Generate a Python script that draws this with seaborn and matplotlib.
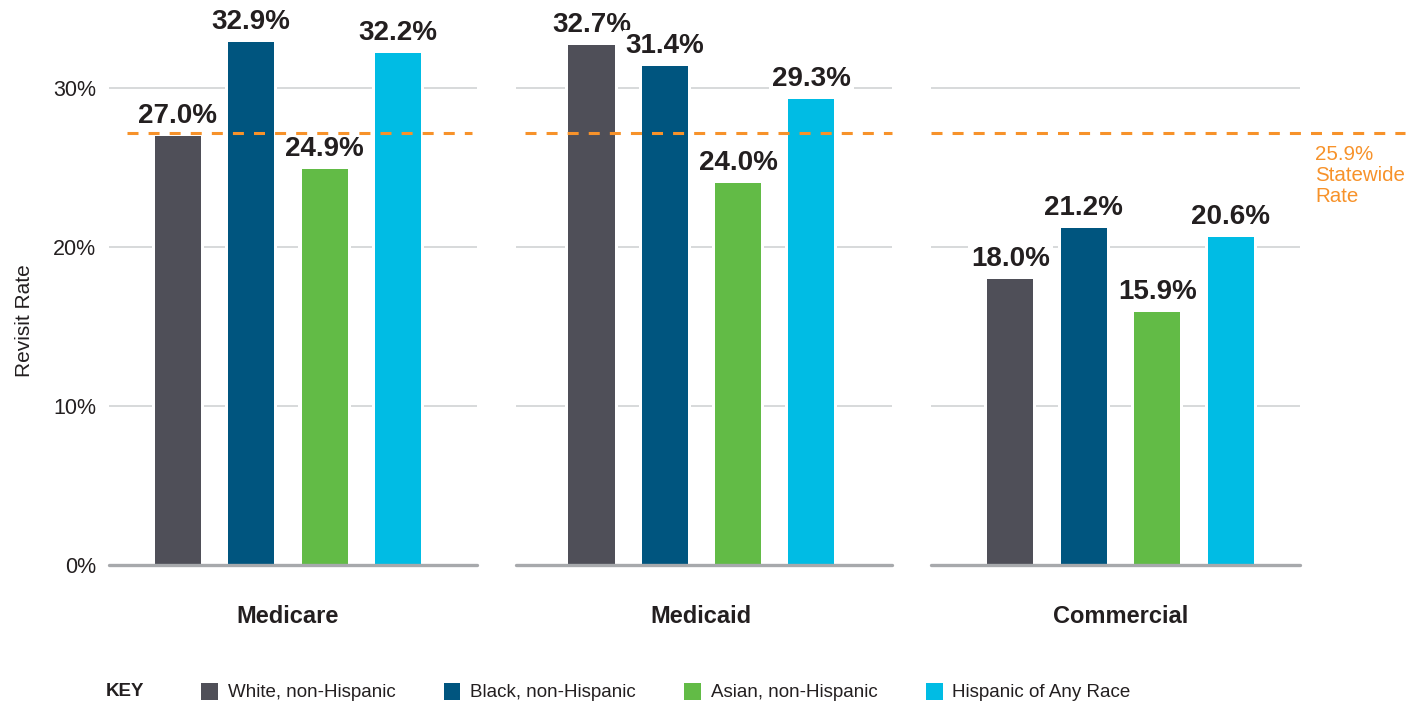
import numpy as np
import matplotlib.pyplot as plt
import pandas as pd
import seaborn as sns
from matplotlib.patches import Patch

# data
payers = ["Medicare", "Medicaid", "Commercial"]
groups = ["White, non-Hispanic", "Black, non-Hispanic",
          "Asian, non-Hispanic", "Hispanic of Any Race"]
medicare = [27.0, 32.9, 24.9, 32.2]
medicaid = [32.7, 31.4, 24.0, 29.3]
commercial = [18.0, 21.2, 15.9, 20.6]
colors = ["#4F4F58", "#00557F", "#62BB46", "#00BCE4"]
statewide_text = "25.9%\nStatewide\nRate"
statewide_y = 27.2  # height of the dashed line as drawn in the picture
yticks = [0, 10, 20, 30]
ytick_labels = ["0%", "10%", "20%", "30%"]

rows = []
for p, vals in zip(payers, [medicare, medicaid, commercial]):
    for g, v in zip(groups, vals):
        rows.append((p, g, v))
df = pd.DataFrame(rows, columns=["payer", "group", "rate"])
palette = dict(zip(groups, colors))

sns.set_style("white")
plt.rcParams["font.family"] = ["Liberation Sans", "DejaVu Sans"]
TXT = "#231F20"
ORANGE = "#F7922A"

W, H = 1426, 704
fig = plt.figure(figsize=(W / 100, H / 100), dpi=100)

# panel layout in pixels
panel_px = [(109, 477), (516, 892), (931, 1300)]
xlims = [(-0.94, 4.08), (-1.03, 4.10), (-1.08, 3.94)]
dash_x = [(-0.70, 4.01), (-0.91, 4.10), (-1.08, 5.37)]
bottom_px, top_px = 565, 40
ytop = (bottom_px - top_px) / 15.9

for i, p in enumerate(payers):
    x0, x1 = panel_px[i]
    ax = fig.add_axes([x0 / W, (H - bottom_px) / H, (x1 - x0) / W,
                       (bottom_px - top_px) / H])
    sub = df[df["payer"] == p]
    # white halo behind each bar so the gridlines stop short of it
    sns.barplot(data=sub, x="group", y="rate", order=groups, color="white",
                width=0.71, linewidth=0, saturation=1, ax=ax, zorder=1.5)
    sns.barplot(data=sub, x="group", y="rate", hue="group", order=groups,
                hue_order=groups, palette=palette, width=0.628,
                linewidth=0, saturation=1, legend=False, ax=ax, zorder=2)
    ax.set_xlim(*xlims[i])
    ax.set_ylim(0, ytop)
    sns.despine(ax=ax, left=True, bottom=True)
    ax.set_xticks([])
    ax.set_xlabel("")
    ax.set_ylabel("")
    ax.set_yticks(yticks)
    if i == 0:
        ax.set_yticklabels(ytick_labels)
        ax.tick_params(axis="y", length=0, pad=9, labelsize=15.5, labelcolor=TXT)
    else:
        ax.tick_params(axis="y", length=0, labelleft=False)
    ax.set_axisbelow(True)
    ax.yaxis.grid(True, color="#D1D3D4", linewidth=1.2)
    ax.axhline(0, color="#A7A9AC", linewidth=2.4, zorder=3, clip_on=False)

    for j, v in enumerate(sub["rate"]):
        ax.annotate(f"{v:.1f}%", (j, v), xytext=(0, 9.5),
                    textcoords="offset points", ha="center", va="baseline",
                    fontsize=20, fontweight="bold", color=TXT,
                    bbox=dict(facecolor="white", edgecolor="none", pad=2),
                    zorder=4)

    line = ax.hlines(statewide_y, dash_x[i][0], dash_x[i][1], color=ORANGE,
                     linewidth=2.2, zorder=5, clip_on=False)
    line.set_linestyle((0, (3.6, 3.3)))

    ax.text(1.5, -0.099, p, transform=ax.get_xaxis_transform(),
            ha="center", va="center", fontsize=17, fontweight="bold",
            color=TXT)

fig.text(25 / W, 1 - 321 / H, "Revisit Rate", rotation=90, ha="center",
         va="center", fontsize=15, color=TXT)

fig.text(1315 / W, 1 - 145 / H, statewide_text, ha="left", va="top",
         fontsize=14.8, color=ORANGE, linespacing=1.15)

# key
fig.text(106 / W, 1 - 692 / H, "KEY", ha="left", va="center",
         fontsize=13.5, fontweight="bold", color=TXT)
handles = [Patch(facecolor=c, edgecolor="none", label=g)
           for g, c in zip(groups, colors)]
fig.legend(handles=handles, loc="center left",
           bbox_to_anchor=(201 / W, 1 - 692 / H), ncol=4, frameon=False,
           fontsize=13.5, handlelength=0.9, handleheight=1.02,
           handletextpad=0.53, columnspacing=2.56, borderpad=0,
           borderaxespad=0, labelcolor=TXT)

fig.savefig("out.png", dpi=100)
